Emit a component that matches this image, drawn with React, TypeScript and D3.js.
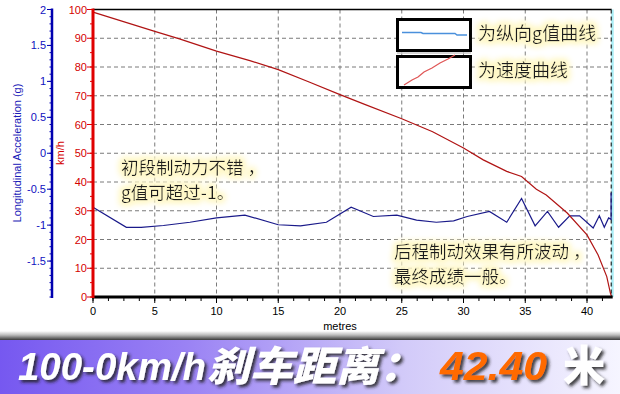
import React from "react";
import * as d3 from "d3";

// Speed curve (km/h) vs distance (metres)
const speedDist = [0, 5, 7, 10, 12.7, 15, 17.5, 20, 22, 25, 27.5, 30, 31.6, 33.5, 34.7, 35.9, 36.7, 38.4, 40, 40.9, 41.6, 41.9, 42];
const speedVals = [99.1, 92.4, 89.8, 85.5, 82.2, 79.1, 74.8, 70.4, 67, 62, 57.5, 51.8, 47.7, 43.7, 41.9, 37.5, 35.5, 29.2, 21.6, 14.6, 7.1, 1.3, 0];

// Longitudinal acceleration (g) vs distance (metres)
const gDist = [0, 2.7, 3.9, 5.7, 7.85, 10, 12.3, 15, 16.8, 18.9, 20.9, 21.6, 22.7, 24.6, 26.2, 27.8, 29.2, 30.3, 32.1, 33.5, 34.7, 35.8, 36.8, 37.7, 38.6, 39.4, 40.5, 41.0, 41.4, 41.75, 41.95, 41.95];
const gVals = [-0.75, -1.03, -1.03, -1.005, -0.96, -0.9, -0.86, -0.995, -1.01, -0.96, -0.75, -0.8, -0.88, -0.86, -0.93, -0.96, -0.94, -0.88, -0.81, -0.96, -0.63, -1.01, -0.81, -1.03, -0.87, -0.87, -1.04, -0.87, -1.03, -0.9, -0.92, -0.55];

const xTicks = [0, 5, 10, 15, 20, 25, 30, 35, 40];
const speedTicks = [0, 10, 20, 30, 40, 50, 60, 70, 80, 90, 100];
const gTicks = [2, 1.5, 1, 0.5, 0, -0.5, -1, -1.5];
const gTickLabels = ["2", "1.5", "1", "0.5", "0", "-0.5", "-1", "-1.5"];

const legendLabels = ["为纵向g值曲线", "为速度曲线"];
const note1 = ["初段制动力不错 ，", "g值可超过-1。"];
const note2 = ["后程制动效果有所波动 ，", "最终成绩一般。"];
const titleMain = "100-0km/h";
const titleCn = "刹车距离：";
const titleValue = "42.40";
const titleUnit = "米";

const W = 620;
const H = 394;
const L = 93;
const R = 611.7;
const T = 9.5;
const B = 297;

export default function App() {
  const x = d3.scaleLinear().domain([0, 42]).range([L, R]);
  const yS = d3.scaleLinear().domain([0, 100]).range([B, T]);
  const yG = d3.scaleLinear().domain([-2, 2]).range([B, T]);

  const speedLine = d3
    .line<number>()
    .x((_, i) => x(speedDist[i]))
    .y((d) => yS(d))(speedVals);
  const gLine = d3
    .line<number>()
    .x((_, i) => x(gDist[i]))
    .y((d) => yG(d))(gVals);

  const xMinor = d3.range(0, 42.01, 1.25);
  const sMinor = d3.range(0, 100.01, 5);
  const gMinor = d3.range(-2, 2.001, 0.1);

  const tickFont = "'Liberation Sans', Arial, sans-serif";
  const cnFont = "'Noto Sans CJK SC', sans-serif";

  return (
    <svg
      width={W}
      height={H}
      style={{ position: "absolute", left: 0, top: 0, background: "#fff" }}
      xmlns="http://www.w3.org/2000/svg"
    >
      <defs>
        <filter id="glow" x="-20%" y="-40%" width="140%" height="180%">
          <feMorphology in="SourceAlpha" operator="dilate" radius="2" result="d" />
          <feGaussianBlur in="d" stdDeviation="3" result="b" />
          <feFlood floodColor="#fff8c8" result="f" />
          <feComposite in="f" in2="b" operator="in" result="g" />
          <feMerge>
            <feMergeNode in="g" />
            <feMergeNode in="g" />
            <feMergeNode in="SourceGraphic" />
          </feMerge>
        </filter>
        <filter id="tshadow" x="-10%" y="-30%" width="120%" height="160%">
          <feDropShadow dx="2.5" dy="2.5" stdDeviation="1.5" floodColor="#222" floodOpacity="0.85" />
        </filter>
        <linearGradient id="banner" x1="0" x2="1" y1="0" y2="0">
          <stop offset="0" stopColor="#7658f0" />
          <stop offset="0.3" stopColor="#9a82f4" />
          <stop offset="0.65" stopColor="#d2caf9" />
          <stop offset="1" stopColor="#f6f5ff" />
        </linearGradient>
        <linearGradient id="shade" x1="0" x2="0" y1="0" y2="1">
          <stop offset="0" stopColor="#ffffff" />
          <stop offset="0.45" stopColor="#bbbbbb" />
          <stop offset="1" stopColor="#3a3a3a" />
        </linearGradient>
      </defs>

      {/* grid */}
      {speedTicks.slice(1, -1).map((t) => (
        <line key={"hg" + t} x1={L} x2={R} y1={yS(t)} y2={yS(t)} stroke="#7a7a7a" strokeDasharray="4,3" strokeWidth={1} />
      ))}
      {xTicks.slice(1).map((t) => (
        <line key={"vg" + t} x1={x(t)} x2={x(t)} y1={T} y2={B} stroke="#7a7a7a" strokeDasharray="4,3" strokeWidth={1} />
      ))}

      {/* top border and right border */}
      <line x1={L} x2={R} y1={T} y2={T} stroke="#000" strokeWidth={1.5} />
      <rect x={R - 0.5} y={T} width={2.5} height={B - T} fill="#a8ecf4" />
      <line x1={R - 0.5} x2={R - 0.5} y1={T} y2={B} stroke="#000" strokeDasharray="4,3" strokeWidth={1} />

      {/* series */}
      <path d={gLine || ""} fill="none" stroke="#1a1a8a" strokeWidth={1.2} />
      <path d={speedLine || ""} fill="none" stroke="#b01414" strokeWidth={1.2} />

      {/* bottom axis */}
      {xMinor.map((t) => (
        <line key={"xm" + t} x1={x(t)} x2={x(t)} y1={B} y2={B + 4} stroke="#000" strokeWidth={1} />
      ))}
      {xTicks.map((t) => (
        <line key={"xt" + t} x1={x(t)} x2={x(t)} y1={B} y2={B + 6} stroke="#000" strokeWidth={1} />
      ))}
      <line x1={L - 1} x2={R + 1} y1={B} y2={B} stroke="#000" strokeWidth={3} />
      {xTicks.map((t) => (
        <text key={"xl" + t} x={x(t)} y={315} fontSize={11} fontFamily={tickFont} textAnchor="middle" fill="#000">
          {t}
        </text>
      ))}
      <text x={340} y={330} fontSize={11} fontFamily={tickFont} textAnchor="middle" fill="#000">
        metres
      </text>

      {/* speed axis */}
      {sMinor.map((t) => (
        <line key={"sm" + t} x1={L - 3} x2={L} y1={yS(t)} y2={yS(t)} stroke="#e00000" strokeWidth={1} />
      ))}
      {speedTicks.map((t) => (
        <line key={"st" + t} x1={L - 6} x2={L} y1={yS(t)} y2={yS(t)} stroke="#e00000" strokeWidth={1} />
      ))}
      <line x1={L} x2={L} y1={T - 1} y2={B + 1} stroke="#e00000" strokeWidth={3} />
      {speedTicks.map((t) => (
        <text key={"sl" + t} x={87} y={yS(t) + 4} fontSize={11} fontFamily={tickFont} textAnchor="end" fill="#d40000">
          {t}
        </text>
      ))}
      <text
        transform={`translate(64,153) rotate(-90)`}
        fontSize={11}
        fontFamily={tickFont}
        textAnchor="middle"
        fill="#d40000"
      >
        km/h
      </text>

      {/* g axis */}
      {gMinor.map((t, i) => (
        <line key={"gm" + i} x1={49.5} x2={52} y1={yG(t)} y2={yG(t)} stroke="#0000b0" strokeWidth={1} />
      ))}
      {gTicks.map((t) => (
        <line key={"gt" + t} x1={47} x2={52} y1={yG(t)} y2={yG(t)} stroke="#0000b0" strokeWidth={1} />
      ))}
      <line x1={52} x2={52} y1={T - 1} y2={B + 1} stroke="#0000b0" strokeWidth={2.5} />
      {gTicks.map((t, i) => (
        <text key={"gl" + t} x={46} y={yG(t) + 4} fontSize={11} fontFamily={tickFont} textAnchor="end" fill="#1010c0">
          {gTickLabels[i]}
        </text>
      ))}
      <text
        transform={`translate(21,153) rotate(-90)`}
        fontSize={11}
        fontFamily={tickFont}
        textAnchor="middle"
        fill="#1a1ab8"
      >
        Longitudinal Acceleration (g)
      </text>

      {/* legend */}
      <rect x={397.5} y={19.5} width={73} height={31} fill="#fff" stroke="#000" strokeWidth={3} />
      <line x1={397} x2={471} y1={53} y2={53} stroke="#c8c8c8" strokeWidth={1.5} />
      <rect x={397.5} y={56.5} width={73} height={31} fill="#fff" stroke="#000" strokeWidth={3} />
      <path d="M402,32.5 L421,32.5 L423,33.5 L455,33.5 L457,35 L467,35" fill="none" stroke="#4a90dc" strokeWidth={1.5} />
      <path d="M404,85 L412,80 L418,77 L424,72 L432,68 L440,63 L448,59 L455,55" fill="none" stroke="#e05858" strokeWidth={1.3} />
      <g filter="url(#glow)" fontFamily={cnFont} fill="#1a1a1a">
        <text x={478} y={40} fontSize={18}>{legendLabels[0]}</text>
        <text x={478} y={77} fontSize={18}>{legendLabels[1]}</text>
        <text x={121} y={174} fontSize={17.5}>{note1[0]}</text>
        <text x={121} y={199} fontSize={17.5}>{note1[1]}</text>
        <text x={394} y={258} fontSize={17.5}>{note2[0]}</text>
        <text x={394} y={283} fontSize={17.5}>{note2[1]}</text>
      </g>

      {/* banner */}
      <rect x={0} y={331} width={W} height={9} fill="url(#shade)" />
      <rect x={0} y={340} width={W} height={H - 340} fill="url(#banner)" />
      <g filter="url(#tshadow)">
        <text
          x={18}
          y={380}
          fontSize={39}
          fontWeight={700}
          fontStyle="italic"
          fontFamily={tickFont}
          fill="#fff"
          textLength={188}
          lengthAdjust="spacingAndGlyphs"
        >
          {titleMain}
        </text>
        <text
          x={207}
          y={381}
          fontSize={41}
          fontWeight={900}
          fontStyle="italic"
          fontFamily={cnFont}
          fill="#fff"
          textLength={215}
          lengthAdjust="spacingAndGlyphs"
        >
          {titleCn}
        </text>
        <text
          x={440}
          y={380}
          fontSize={40}
          fontWeight={700}
          fontStyle="italic"
          fontFamily={tickFont}
          fill="#ff6a00"
          textLength={107}
          lengthAdjust="spacingAndGlyphs"
        >
          {titleValue}
        </text>
        <text x={563} y={381} fontSize={42} fontWeight={900} fontFamily={cnFont} fill="#fff">
          {titleUnit}
        </text>
      </g>
    </svg>
  );
}
